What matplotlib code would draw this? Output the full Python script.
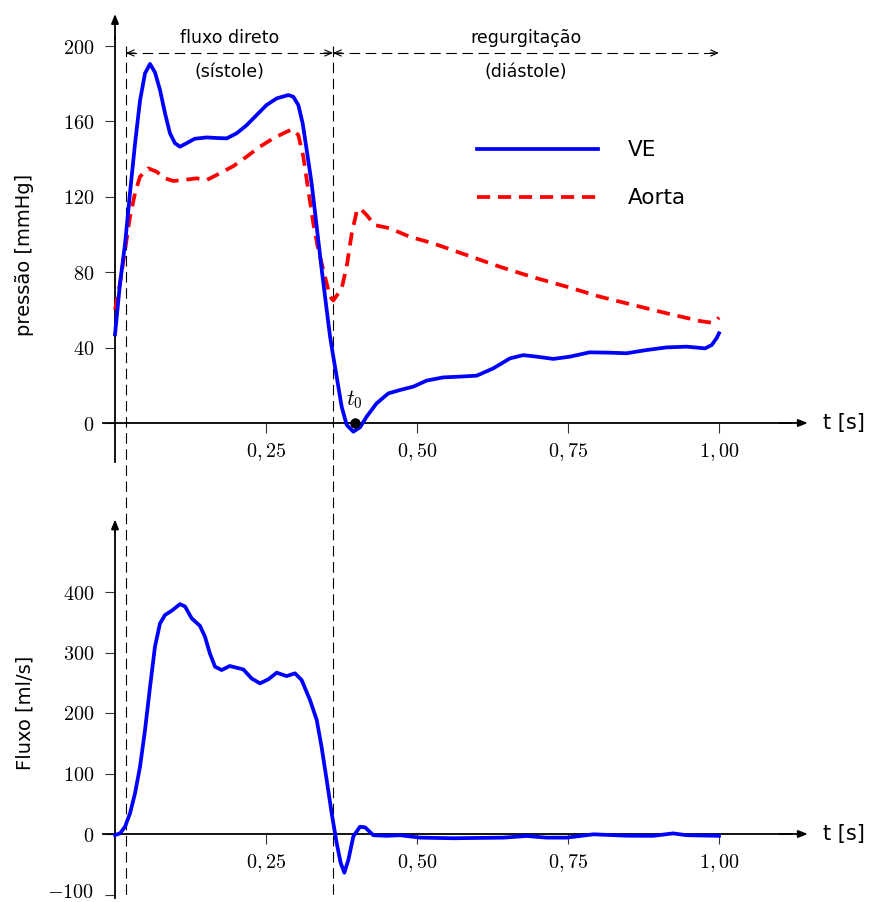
import matplotlib
matplotlib.use("Agg")
import matplotlib.pyplot as plt
from matplotlib.transforms import ScaledTranslation

plt.rcParams['mathtext.fontset'] = 'cm'
plt.rcParams['font.family'] = ['DejaVu Sans']

# ---------------- data ----------------
t_ve = [0.0, 0.0083, 0.0166, 0.0248, 0.0331, 0.0414, 0.0497, 0.058, 0.0662, 0.0745,
        0.0828, 0.091, 0.0993, 0.1076, 0.116, 0.132, 0.152, 0.168, 0.185, 0.2015,
        0.218, 0.2346, 0.251, 0.2677, 0.287, 0.2952, 0.3035, 0.3107, 0.3174, 0.3256,
        0.334, 0.342, 0.3505, 0.356, 0.361, 0.367, 0.3753, 0.3836, 0.3946, 0.4056,
        0.4167, 0.433, 0.4525, 0.472, 0.494, 0.516, 0.5436, 0.571, 0.5988, 0.6264,
        0.654, 0.676, 0.698, 0.7257, 0.7533, 0.786, 0.8195, 0.847, 0.880, 0.913,
        0.9465, 0.977, 0.988, 0.996, 1.0]
p_ve = [47, 74, 95, 122, 148, 171, 185.5, 190.5, 186, 176.7,
        164.3, 153.7, 148.4, 146.6, 148, 150.8, 151.5, 151.2, 151, 153.7,
        158, 163.4, 168.7, 172.2, 174, 173.1, 168.7, 159, 144.8, 127,
        104, 82, 60, 46, 36, 24.6, 8.6, -1, -4.6, -2.3,
        3.4, 10.4, 15.7, 17.5, 19.3, 22.5, 24.2, 24.6, 25.1, 29,
        34.3, 36, 35.2, 34, 35.2, 37.5, 37.3, 37, 38.7, 40.1,
        40.5, 39.6, 41.4, 45, 47.6]

t_ao = [0.0, 0.0083, 0.0166, 0.0248, 0.0331, 0.0414, 0.0552, 0.069, 0.0828, 0.0966,
        0.113, 0.135, 0.152, 0.1738, 0.196, 0.218, 0.240, 0.262, 0.284, 0.294,
        0.3035, 0.3118, 0.32, 0.3283, 0.3366, 0.3477, 0.356, 0.3615, 0.3753, 0.3836,
        0.392, 0.400, 0.4056, 0.4167, 0.430, 0.455, 0.488, 0.527, 0.582, 0.637,
        0.6926, 0.748, 0.803, 0.858, 0.9134, 0.9685, 0.988, 0.996, 1.0]
p_ao = [60, 74, 91.8, 109.4, 121.8, 130.7, 135.1, 133.3, 129.8, 128.4,
        128.9, 129.8, 128.9, 132.5, 136.3, 141.3, 146.6, 151, 154.5, 155.8,
        152.8, 141.3, 123.6, 106, 91.8, 77.6, 67, 65, 71.4, 83,
        100.6, 112, 113.9, 110.3, 105, 103.3, 98.8, 95.3, 89.1, 82.9,
        77.3, 72.3, 67, 62.6, 58.2, 54.1, 53.2, 54.6, 56]

t_flow = [0.0, 0.0083, 0.0166, 0.0248, 0.0331, 0.0414, 0.0497, 0.058, 0.0662, 0.0745,
          0.0828, 0.0938, 0.1076, 0.116, 0.127, 0.1407, 0.149, 0.157, 0.1656, 0.1766,
          0.190, 0.2125, 0.2263, 0.240, 0.2539, 0.2677, 0.2843, 0.298, 0.309, 0.3228,
          0.334, 0.342, 0.3505, 0.3588, 0.367, 0.3737, 0.3797, 0.3863, 0.3946, 0.4056,
          0.414, 0.4277, 0.4498, 0.472, 0.505, 0.56, 0.643, 0.6816, 0.7147, 0.748,
          0.792, 0.847, 0.891, 0.924, 0.9465, 1.0]
f_flow = [-1.7, 1, 12, 34, 67, 111, 172, 243, 310, 348,
          362, 369, 380, 376, 356.5, 344, 326, 298.7, 276.5, 271,
          277.7, 272, 257, 249, 255.7, 266.6, 261, 265.6, 254.5, 221.5,
          188.4, 144, 89, 34, -15, -48, -64, -43, -4, 12,
          11, -2, -3, -2, -6, -7, -6, -3.3, -6, -6,
          -0.5, -2.8, -3, 1, -2, -3]

t_phase = [0.018, 0.361, 1.0]      # start systole, end systole, end of cycle
t0 = 0.398
xticks = [0.25, 0.50, 0.75, 1.00]
xticklabels = [r'$0,25$', r'$0,50$', r'$0,75$', r'$1,00$']
p_ticks = [0, 40, 80, 120, 160, 200]
f_ticks = [-100, 0, 100, 200, 300, 400]

# ---------------- layout (pixel geometry) ----------------
W, H = 869, 902
X0, PXT = 115, 604           # pixel of t=0, pixels per second
fig = plt.figure(figsize=(W / 100, H / 100), dpi=100)


def make_ax(xlim, ylim, py0, ppu):
    left = (X0 + xlim[0] * PXT) / W
    width = (xlim[1] - xlim[0]) * PXT / W
    top_px = py0 - ylim[1] * ppu
    bot_px = py0 - ylim[0] * ppu
    ax = fig.add_axes([left, 1 - bot_px / H, width, (bot_px - top_px) / H])
    ax.set_xlim(*xlim)
    ax.set_ylim(*ylim)
    ax.patch.set_visible(False)
    return ax


ax1 = make_ax((-0.05, 1.24), (-25, 221), 423, 1.885)
ax2 = make_ax((-0.05, 1.24), (-112, 530), 834, 0.605)

BLUE = '#0000ff'
RED = '#ff0000'
LW = 2.7
TICKFS = 14.5


def style_axis(ax, ybounds, ytop, yticks, yticklabels):
    for s in ['top', 'right']:
        ax.spines[s].set_visible(False)
    ax.spines['left'].set_position(('data', 0))
    ax.spines['bottom'].set_position(('data', 0))
    ax.spines['left'].set_bounds(ybounds[0], ybounds[1])
    ax.spines['bottom'].set_bounds(-0.02, 1.12)
    for s in ['left', 'bottom']:
        ax.spines[s].set_linewidth(1.3)
    ax.set_xticks(xticks)
    ax.set_xticklabels(xticklabels)
    ax.set_yticks(yticks)
    ax.set_yticklabels(yticklabels)
    ax.tick_params(direction='out', length=7, width=0.8, labelsize=TICKFS,
                   color='#333333')
    ax.tick_params(axis='x', pad=6)
    ax.tick_params(axis='y', pad=8)
    ap = dict(arrowstyle='-|>,head_length=0.55,head_width=0.22', lw=1.3,
              color='black', shrinkA=0, shrinkB=0)
    ax.annotate('', xy=(1.147, 0), xytext=(1.10, 0), arrowprops=ap,
                annotation_clip=False)
    ax.annotate('', xy=(0, ytop), xytext=(0, ybounds[1] - 1), arrowprops=ap,
                annotation_clip=False)
    ax.text(1.172, 0, 't [s]', fontsize=15, ha='left', va='center')


style_axis(ax1, (-20.5, 205), 217, p_ticks, [rf'${v}$' for v in p_ticks])
style_axis(ax2, (-106, 500), 520, f_ticks, [rf'${v}$' for v in f_ticks])

# keep the lowest flow tick label inside the figure
lowlab = ax2.get_yticklabels()[0]
lowlab.set_transform(lowlab.get_transform() +
                     ScaledTranslation(0, 3 / 72, fig.dpi_scale_trans))

# ---------------- curves ----------------
ax1.plot(t_ve, p_ve, color=BLUE, lw=LW, solid_joinstyle='round', zorder=5,
         clip_on=False)
ax1.plot(t_ao, p_ao, color=RED, lw=LW, linestyle=(0, (3.5, 2.1)), zorder=4,
         clip_on=False)
ax2.plot(t_flow, f_flow, color=BLUE, lw=LW, solid_joinstyle='round', zorder=5,
         clip_on=False)

# t0 marker
ax1.plot([t0], [0], 'o', color='black', ms=6.5, zorder=6)
ax1.text(t0 - 0.002, 12.5, r'$t_0$', fontsize=15.5, ha='center', va='center')

# ---------------- phase dashed lines ----------------
for tp in t_phase[:2]:
    ax1.plot([tp, tp], [200, -252], color='black', lw=0.8,
             linestyle=(0, (9.5, 5)), clip_on=False, zorder=1)

y_arr = 196.3
head = dict(arrowstyle='->,head_length=0.5,head_width=0.22', lw=0.8,
            color='black', shrinkA=0, shrinkB=0)
for a, b in [(t_phase[0], t_phase[1]), (t_phase[1], t_phase[2])]:
    ax1.plot([a, b], [y_arr, y_arr], color='black', lw=0.8,
             linestyle=(0, (9.5, 5)), clip_on=False)
    ax1.annotate('', xy=(a, y_arr), xytext=(a + 0.015, y_arr), arrowprops=head,
                 annotation_clip=False)
    ax1.annotate('', xy=(b, y_arr), xytext=(b - 0.015, y_arr), arrowprops=head,
                 annotation_clip=False)

ax1.text((t_phase[0] + t_phase[1]) / 2, 204.2, 'fluxo direto', fontsize=12.5,
         ha='center', va='center')
ax1.text((t_phase[0] + t_phase[1]) / 2, 186.0, '(sístole)', fontsize=12.5,
         ha='center', va='center')
ax1.text((t_phase[1] + t_phase[2]) / 2, 204.2, 'regurgitação', fontsize=12.5,
         ha='center', va='center')
ax1.text((t_phase[1] + t_phase[2]) / 2, 186.0, '(diástole)', fontsize=12.5,
         ha='center', va='center')

# ---------------- legend (drawn manually) ----------------
ax1.plot([0.599, 0.80], [145.4, 145.4], color=BLUE, lw=LW)
ax1.plot([0.599, 0.80], [119.9, 119.9], color=RED, lw=LW,
         linestyle=(0, (3.5, 2.1)))
ax1.text(0.849, 145.0, 'VE', fontsize=15.5, ha='left', va='center')
ax1.text(0.849, 119.5, 'Aorta', fontsize=15.5, ha='left', va='center')

# ---------------- axis labels ----------------
fig.text(25 / W, 1 - 255 / H, 'pressão [mmHg]', rotation=90, fontsize=14,
         ha='center', va='center')
fig.text(25 / W, 1 - 713 / H, 'Fluxo [ml/s]', rotation=90, fontsize=14,
         ha='center', va='center')

fig.savefig('out.png', dpi=100)
